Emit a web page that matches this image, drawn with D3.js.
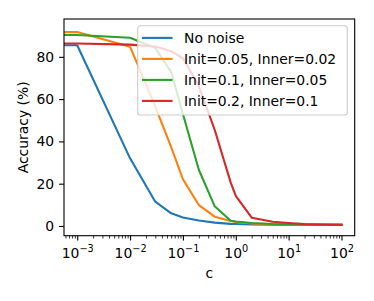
<!DOCTYPE html>
<html>
<head>
<meta charset="utf-8">
<script src="https://cdn.jsdelivr.net/npm/d3@7"></script>
<style>
  html, body { margin: 0; padding: 0; background: #fff; }
  svg { display: block; font-family: "DejaVu Sans", sans-serif; }
</style>
</head>
<body>
<svg id="chart" width="374" height="301"></svg>
<script>
// ---- data ----
const cValues = [0, 0.001, 0.01, 0.03, 0.06, 0.1, 0.2, 0.4, 0.8, 1, 2, 5, 10, 20, 50, 100];
const noNoise   = [85.5, 85.5, 32.0, 11.5, 6.0, 4.0, 2.6, 1.6, 1.0, 0.9, 0.7, 0.6, 0.5, 0.5, 0.5, 0.5];
const noise005  = [91.6, 91.7, 84.8, 56.5, 37.3, 22.1, 9.9, 4.4, 2.4, 1.9, 1.2, 0.8, 0.6, 0.5, 0.5, 0.5];
const noise01   = [90.6, 90.3, 89.0, 84.2, 72.8, 53.0, 26.6, 9.3, 2.5, 2.1, 1.4, 0.9, 0.7, 0.6, 0.5, 0.5];
const noise02   = [86.5, 86.3, 85.8, 84.9, 82.7, 79.3, 66.2, 45.4, 20.6, 14.2, 3.9, 2.0, 1.4, 0.9, 0.7, 0.6];
const seriesLabels = ["No noise", "Init=0.05, Inner=0.02", "Init=0.1, Inner=0.05", "Init=0.2, Inner=0.1"];
const seriesColors = ["#1f77b4", "#ff7f0e", "#2ca02c", "#d62728"];
const yTicks = [0, 20, 40, 60, 80];
const xTickExps = [-3, -2, -1, 0, 1, 2];
const xLabel = "c";
const yLabel = "Accuracy (%)";

const allSeries = [noNoise, noise005, noise01, noise02];

// ---- layout ----
const L = 64, R = 354.7, T = 19, B = 235.7;
const FS = 13.9;
const svg = d3.select("#chart");

const x = d3.scaleLog().domain([Math.pow(10, -3.25), Math.pow(10, 2.25)]).range([L, R]);
const y = d3.scaleLinear().domain([-4.6, 97.9]).range([B, T]);

svg.append("defs").append("clipPath").attr("id", "clip")
  .append("rect").attr("x", L).attr("y", T).attr("width", R - L).attr("height", B - T);

// lines (c = 0 is clipped to the far left like matplotlib's log clipping)
const xPos = c => c > 0 ? x(c) : x(x.domain()[0] / 100);
const line = d3.line().x(d => xPos(d[0])).y(d => y(d[1]));
const gLines = svg.append("g").attr("clip-path", "url(#clip)");
allSeries.forEach((s, i) => {
  gLines.append("path")
    .datum(cValues.map((c, j) => [c, s[j]]))
    .attr("d", line)
    .attr("fill", "none")
    .attr("stroke", seriesColors[i])
    .attr("stroke-width", 2.1)
    .attr("stroke-linejoin", "round")
    .attr("stroke-linecap", "square");
});

// y axis
const yAxis = d3.axisLeft(y).tickValues(yTicks).tickSize(4.9).tickPadding(4.9).tickFormat(d3.format("d"));
const gy = svg.append("g").attr("transform", `translate(${L},0)`).call(yAxis);
gy.select(".domain").remove();
gy.selectAll(".tick line").attr("stroke", "#000").attr("stroke-width", 1.1);
gy.selectAll(".tick text").attr("font-size", FS).attr("fill", "#000").attr("font-family", "DejaVu Sans");

// x minor ticks
const minor = [];
for (let e = -4; e <= 2; e++) for (let m = 2; m <= 9; m++) {
  const v = m * Math.pow(10, e);
  if (v >= x.domain()[0] && v <= x.domain()[1]) minor.push(v);
}
const gxm = svg.append("g").attr("transform", `translate(0,${B})`)
  .call(d3.axisBottom(x).tickValues(minor).tickSize(2.8).tickFormat(""));
gxm.select(".domain").remove();
gxm.selectAll(".tick line").attr("stroke", "#000").attr("stroke-width", 0.8);

// x major ticks
const gx = svg.append("g").attr("transform", `translate(0,${B})`)
  .call(d3.axisBottom(x).tickValues(xTickExps.map(e => Math.pow(10, e))).tickSize(4.9).tickFormat(""));
gx.select(".domain").remove();
gx.selectAll(".tick line").attr("stroke", "#000").attr("stroke-width", 1.1);
gx.selectAll(".tick").each(function(d, i) {
  const e = xTickExps[i];
  const t = d3.select(this).append("text")
    .attr("y", 22).attr("text-anchor", "middle").attr("fill", "#000")
    .attr("font-size", FS).attr("font-family", "DejaVu Sans");
  t.append("tspan").text("10");
  t.append("tspan").attr("dy", -5.7).attr("font-size", FS * 0.7).text(e < 0 ? "\u2212" + (-e) : String(e));
});

// spines
svg.append("rect").attr("x", L).attr("y", T).attr("width", R - L).attr("height", B - T)
  .attr("fill", "none").attr("stroke", "#000").attr("stroke-width", 1.1);

// axis labels
svg.append("text").attr("x", (L + R) / 2).attr("y", 278.3).attr("text-anchor", "middle")
  .attr("font-size", FS).attr("fill", "#000").text(xLabel);
svg.append("text").attr("transform", `translate(28.3,${(T + B) / 2}) rotate(-90)`)
  .attr("text-anchor", "middle").attr("font-size", FS).attr("fill", "#000").text(yLabel);

// legend
const lg = svg.append("g");
lg.append("rect").attr("x", 137.7).attr("y", 25.7).attr("width", 209.6).attr("height", 89.3)
  .attr("rx", 2.8).attr("ry", 2.8)
  .attr("fill", "#fff").attr("fill-opacity", 0.8)
  .attr("stroke", "#cccccc").attr("stroke-width", 1.1);
seriesLabels.forEach((lab, i) => {
  const cy = 37.9 + i * 21.0;
  lg.append("line").attr("x1", 143).attr("x2", 171.5).attr("y1", cy).attr("y2", cy)
    .attr("stroke", seriesColors[i]).attr("stroke-width", 2.1).attr("stroke-linecap", "square");
  lg.append("text").attr("x", 184).attr("y", cy + 5.1).attr("font-size", FS).attr("fill", "#000").text(lab);
});
</script>
</body>
</html>
